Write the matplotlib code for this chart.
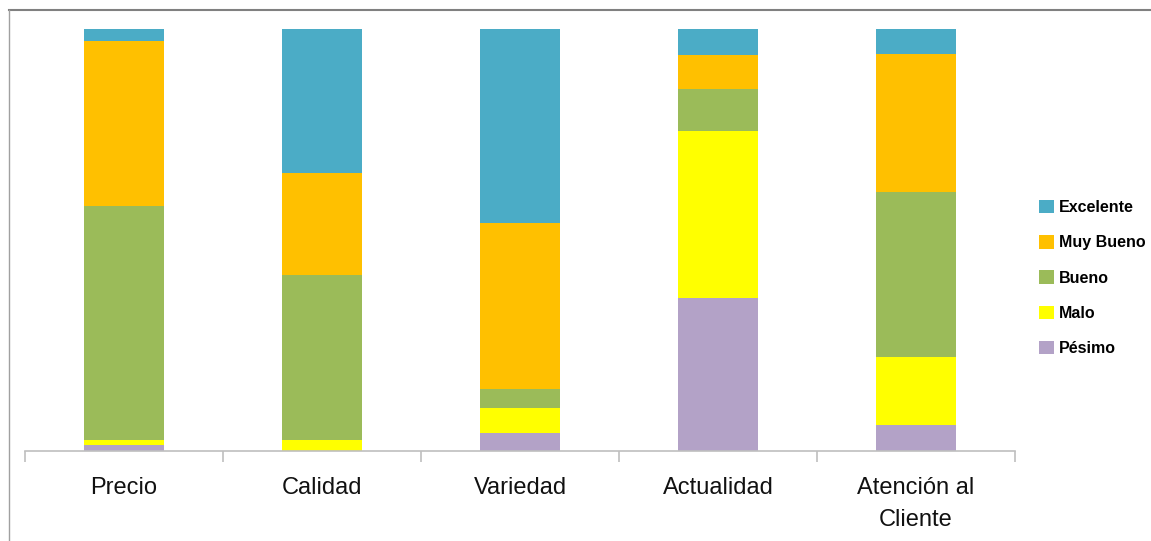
import matplotlib.pyplot as plt
from matplotlib.lines import Line2D
from matplotlib.patches import Patch

# Categorías evaluadas y porcentaje de respuestas por calificación
categorias = ['Precio', 'Calidad', 'Variedad', 'Actualidad', 'Atención al\nCliente']
pesimo = [1.4, 0.0, 4.3, 36.4, 6.2]
malo = [1.2, 2.6, 5.8, 39.4, 16.1]
bueno = [55.6, 39.1, 4.6, 10.0, 39.1]
muy_bueno = [39.1, 24.2, 39.4, 8.1, 32.7]
excelente = [2.7, 34.1, 45.9, 6.2, 5.9]

series = [
    ('Pésimo', pesimo, '#B3A2C7'),
    ('Malo', malo, '#FFFF00'),
    ('Bueno', bueno, '#9BBB59'),
    ('Muy Bueno', muy_bueno, '#FFC000'),
    ('Excelente', excelente, '#4BACC6'),
]

plt.rcParams['font.family'] = ['Liberation Sans', 'DejaVu Sans']

fig = plt.figure(figsize=(11.51, 5.41), dpi=100)
ax = fig.add_axes([25 / 1151, 1 - 451 / 541, 990 / 1151, (451 - 29.3) / 541])

x = list(range(len(categorias)))
base = [0.0] * len(categorias)
for nombre, valores, color in series:
    ax.bar(x, valores, width=0.4, bottom=base, color=color, edgecolor='none', label=nombre)
    base = [b + v for b, v in zip(base, valores)]

ax.set_xlim(-0.5, len(categorias) - 0.5)
ax.set_ylim(0, 100)
for lado in ['top', 'right', 'left']:
    ax.spines[lado].set_visible(False)
ax.spines['bottom'].set_color('#BFBFBF')
ax.spines['bottom'].set_linewidth(1.2)
ax.set_yticks([])

# marcas en los límites de cada categoría
ax.set_xticks([i - 0.5 for i in range(len(categorias) + 1)])
ax.set_xticklabels([])
ax.tick_params(axis='x', direction='out', length=8, width=1.2, color='#BFBFBF')
for i, cat in enumerate(categorias):
    ax.text(i, -6.2, cat, ha='center', va='top', fontsize=17, linespacing=1.6,
            color='#111111', transform=ax.transData)

# leyenda en orden inverso (Excelente arriba)
handles = [Patch(facecolor=c, edgecolor='none') for _, _, c in reversed(series)]
labels = [n for n, _, _ in reversed(series)]
fig.legend(handles, labels, loc='center left', bbox_to_anchor=(1025 / 1151, 1 - 278 / 541),
           frameon=False, handlelength=0.9, handleheight=0.9,
           handletextpad=0.35, labelspacing=1.25, prop={'weight': 'bold', 'size': 11.5})

# marco gris del área del gráfico
fig.add_artist(Line2D([9 / 1151, 1], [1 - 10 / 541, 1 - 10 / 541], color='#808080',
                      linewidth=1.5, transform=fig.transFigure))
fig.add_artist(Line2D([9 / 1151, 9 / 1151], [0, 1 - 10 / 541], color='#A0A0A0',
                      linewidth=1.0, transform=fig.transFigure))

fig.savefig('out.png', dpi=100)
